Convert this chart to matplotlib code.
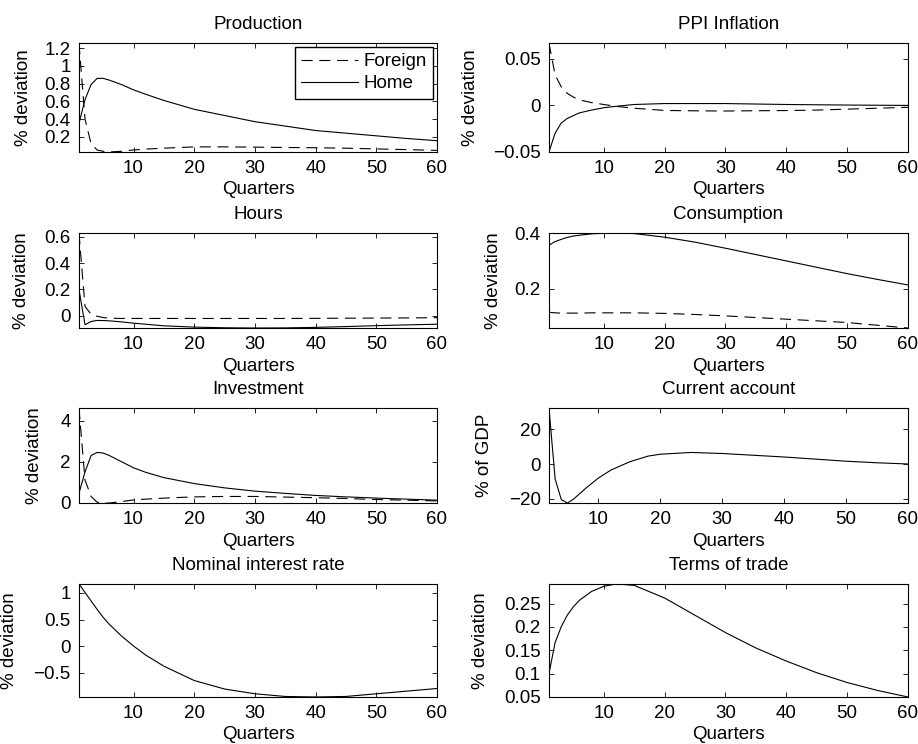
import matplotlib
matplotlib.use("Agg")
import matplotlib.pyplot as plt
from matplotlib.ticker import FuncFormatter

plt.rcParams['font.family'] = ['Liberation Sans', 'DejaVu Sans']
plt.rcParams['font.size'] = 13.5
plt.rcParams['axes.unicode_minus'] = True

quarters = [1, 2, 3, 4, 5, 6, 8, 10, 12, 15, 20, 25, 30, 35, 40, 45, 50, 55, 60]

prod_home = [0.35, 0.62, 0.79, 0.86, 0.86, 0.84, 0.79, 0.73, 0.68, 0.61, 0.51, 0.44, 0.37, 0.32, 0.27, 0.24, 0.21, 0.18, 0.155]
prod_foreign = [1.26, 0.40, 0.12, 0.05, 0.035, 0.027, 0.035, 0.05, 0.06, 0.07, 0.085, 0.085, 0.082, 0.078, 0.075, 0.07, 0.062, 0.054, 0.045]

ppi_home = [-0.05, -0.030, -0.019, -0.014, -0.011, -0.008, -0.005, -0.0025, -0.001, 0.001, 0.002, 0.002, 0.002, 0.0015, 0.001, 0.0007, 0.0004, 0.0002, 0.0]
ppi_foreign = [0.067, 0.033, 0.020, 0.013, 0.009, 0.006, 0.003, 0.001, -0.001, -0.003, -0.0054, -0.0058, -0.006, -0.0057, -0.0055, -0.005, -0.004, -0.003, -0.002]

hours_home = [0.2, -0.07, -0.045, -0.037, -0.038, -0.04, -0.048, -0.058, -0.066, -0.078, -0.088, -0.093, -0.095, -0.094, -0.09, -0.084, -0.077, -0.071, -0.066]
hours_foreign = [0.63, 0.07, 0.01, -0.005, -0.015, -0.02, -0.022, -0.022, -0.022, -0.022, -0.022, -0.022, -0.022, -0.022, -0.021, -0.02, -0.019, -0.018, -0.016]

cons_home = [0.357, 0.37, 0.378, 0.385, 0.39, 0.393, 0.398, 0.4, 0.401, 0.399, 0.386, 0.368, 0.346, 0.323, 0.3, 0.277, 0.254, 0.233, 0.213]
cons_foreign = [0.114, 0.112, 0.111, 0.111, 0.111, 0.111, 0.112, 0.112, 0.112, 0.112, 0.11, 0.106, 0.101, 0.095, 0.089, 0.083, 0.077, 0.067, 0.057]

inv_home = [0.45, 1.5, 2.3, 2.45, 2.42, 2.3, 2.0, 1.7, 1.48, 1.22, 0.93, 0.72, 0.56, 0.45, 0.35, 0.28, 0.22, 0.17, 0.12]
inv_foreign = [4.62, 1.1, 0.3, 0.02, -0.02, -0.02, 0.05, 0.13, 0.17, 0.22, 0.28, 0.3, 0.3, 0.27, 0.24, 0.2, 0.15, 0.12, 0.08]

# current account starts at quarter 2
ca_quarters = [2, 3, 4, 5, 6, 8, 10, 12, 15, 18, 20, 25, 30, 35, 40, 45, 50, 55, 60]
ca_home = [32.0, -8.6, -20.4, -22.3, -20.0, -13.7, -8.0, -3.5, 1.2, 4.5, 5.6, 6.6, 6.0, 5.0, 4.0, 2.8, 1.6, 0.7, 0.0]

rate_home = [1.17, 1.01, 0.85, 0.69, 0.54, 0.41, 0.19, 0.0, -0.17, -0.38, -0.65, -0.81, -0.90, -0.95, -0.96, -0.95, -0.9, -0.85, -0.8]

tot_home = [0.1, 0.166, 0.2, 0.225, 0.243, 0.257, 0.276, 0.287, 0.292, 0.289, 0.262, 0.225, 0.188, 0.155, 0.127, 0.102, 0.081, 0.064, 0.05]

xticks = [10, 20, 30, 40, 50, 60]

# title, ylabel, x, home, foreign, yticks
panels = [
    ("Production", "% deviation", quarters, prod_home, prod_foreign, [0.2, 0.4, 0.6, 0.8, 1, 1.2]),
    ("PPI Inflation", "% deviation", quarters, ppi_home, ppi_foreign, [-0.05, 0, 0.05]),
    ("Hours", "% deviation", quarters, hours_home, hours_foreign, [0, 0.2, 0.4, 0.6]),
    ("Consumption", "% deviation", quarters, cons_home, cons_foreign, [0.2, 0.4]),
    ("Investment", "% deviation", quarters, inv_home, inv_foreign, [0, 2, 4]),
    ("Current account", "% of GDP", ca_quarters, ca_home, None, [-20, 0, 20]),
    ("Nominal interest rate", "% deviation", quarters, rate_home, None, [-0.5, 0, 0.5, 1]),
    ("Terms of trade", "% deviation", quarters, tot_home, None, [0.05, 0.1, 0.15, 0.2, 0.25]),
]

# axes boxes (left, bottom, width, height)
col_left = [0.086, 0.598]
col_width = [0.39, 0.391]
rows = [(0.7957, 0.1465), (0.5591, 0.1277), (0.3239, 0.1277), (0.0632, 0.1519)]
ylabel_x = [-0.132, -0.194, -0.137, -0.132, -0.10, -0.155, -0.17, -0.166]

fmt = FuncFormatter(lambda v, p: f"{v:g}".replace('-', '\u2212'))

fig = plt.figure(figsize=(9.18, 7.44), dpi=100)

for i, (title, ylab, x, home, foreign, yt) in enumerate(panels):
    r, c = divmod(i, 2)
    ax = fig.add_axes([col_left[c], rows[r][0], col_width[c], rows[r][1]])
    vals = list(home)
    if foreign is not None:
        ax.plot(x, foreign, color='black', lw=0.8, dashes=(10, 6), label='Foreign')
        vals += foreign
    ax.plot(x, home, color='black', lw=0.8, label='Home')
    ax.set_xlim(x[0], x[-1])
    ax.set_ylim(min(vals), max(vals))
    ax.set_xticks(xticks)
    ax.set_yticks(yt)
    ax.yaxis.set_major_formatter(fmt)
    ax.tick_params(direction='in', top=True, right=True, length=3.5, width=0.6, pad=6)
    for s in ax.spines.values():
        s.set_linewidth(0.8)
    ax.set_title(title, fontsize=13.5, pad=10)
    ax.set_xlabel("Quarters", labelpad=3)
    ax.set_ylabel(ylab)
    ax.yaxis.set_label_coords(ylabel_x[i], 0.5)
    if i == 0:
        ax.legend(loc='upper right', frameon=True, fancybox=False, edgecolor='black',
                  framealpha=1, handlelength=3.0, handletextpad=0.3, borderpad=0.35,
                  labelspacing=0.25, borderaxespad=0.2)

plt.savefig('out.png', dpi=100)
